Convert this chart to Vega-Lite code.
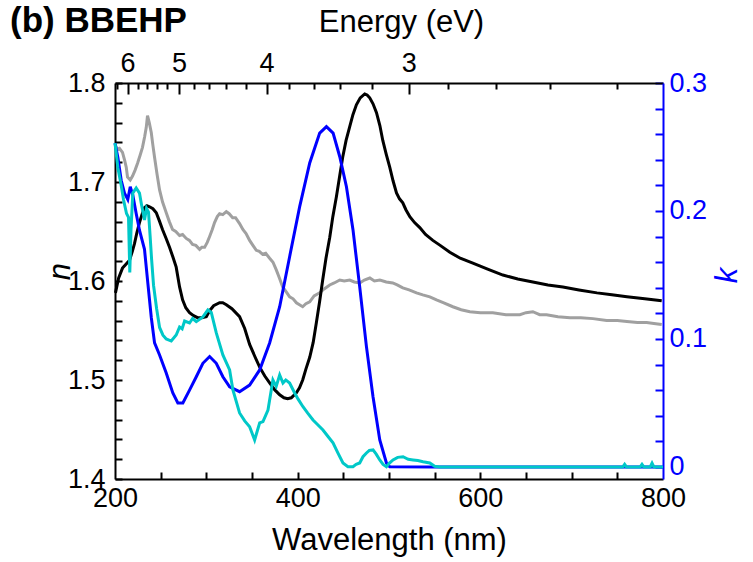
{
  "$schema": "https://vega.github.io/schema/vega-lite/v6.json",
  "width": 548,
  "height": 396,
  "autosize": {"type": "none"},
  "padding": {"left": 115, "top": 83, "right": 90, "bottom": 83},
  "background": "white",
  "config": {"font": "Liberation Sans", "view": {"stroke": null}},
  "title": {"text": "(b) BBEHP", "anchor": "start", "frame": "group", "fontSize": 35, "fontWeight": "bold", "font": "Liberation Sans", "color": "black", "dx": -105, "dy": 37},
  "datasets": {
    "n": [
      {"series": "gray", "wl": 200.5, "v": 1.737}, {"series": "gray", "wl": 202.5, "v": 1.733}, {"series": "gray", "wl": 204.9, "v": 1.734}, {"series": "gray", "wl": 208.2, "v": 1.730}, {"series": "gray", "wl": 210.5, "v": 1.722}, {"series": "gray", "wl": 212.3, "v": 1.715}, {"series": "gray", "wl": 213.7, "v": 1.705}, {"series": "gray", "wl": 216.7, "v": 1.702}, {"series": "gray", "wl": 219.2, "v": 1.706}, {"series": "gray", "wl": 222, "v": 1.712}, {"series": "gray", "wl": 224.7, "v": 1.719}, {"series": "gray", "wl": 227.5, "v": 1.727}, {"series": "gray", "wl": 230.1, "v": 1.735}, {"series": "gray", "wl": 232.5, "v": 1.746}, {"series": "gray", "wl": 234.2, "v": 1.755}, {"series": "gray", "wl": 235.6, "v": 1.767}, {"series": "gray", "wl": 237.5, "v": 1.760}, {"series": "gray", "wl": 239.7, "v": 1.750}, {"series": "gray", "wl": 241.5, "v": 1.737}, {"series": "gray", "wl": 243.3, "v": 1.725}, {"series": "gray", "wl": 246, "v": 1.708}, {"series": "gray", "wl": 248.8, "v": 1.692}, {"series": "gray", "wl": 252, "v": 1.680}, {"series": "gray", "wl": 256.1, "v": 1.669}, {"series": "gray", "wl": 259.5, "v": 1.660}, {"series": "gray", "wl": 263, "v": 1.652}, {"series": "gray", "wl": 266.5, "v": 1.650}, {"series": "gray", "wl": 270.7, "v": 1.646}, {"series": "gray", "wl": 274, "v": 1.647}, {"series": "gray", "wl": 278, "v": 1.643}, {"series": "gray", "wl": 281.5, "v": 1.641}, {"series": "gray", "wl": 284.9, "v": 1.637}, {"series": "gray", "wl": 288.5, "v": 1.636}, {"series": "gray", "wl": 292.6, "v": 1.632}, {"series": "gray", "wl": 295, "v": 1.634}, {"series": "gray", "wl": 298.1, "v": 1.634}, {"series": "gray", "wl": 301, "v": 1.639}, {"series": "gray", "wl": 303.6, "v": 1.645}, {"series": "gray", "wl": 306.5, "v": 1.652}, {"series": "gray", "wl": 309, "v": 1.659}, {"series": "gray", "wl": 312, "v": 1.665}, {"series": "gray", "wl": 314.5, "v": 1.668}, {"series": "gray", "wl": 318, "v": 1.667}, {"series": "gray", "wl": 321.9, "v": 1.670}, {"series": "gray", "wl": 325, "v": 1.668}, {"series": "gray", "wl": 328.8, "v": 1.664}, {"series": "gray", "wl": 332, "v": 1.664}, {"series": "gray", "wl": 336.4, "v": 1.658}, {"series": "gray", "wl": 340, "v": 1.652}, {"series": "gray", "wl": 343.5, "v": 1.648}, {"series": "gray", "wl": 347.4, "v": 1.641}, {"series": "gray", "wl": 351, "v": 1.636}, {"series": "gray", "wl": 354.7, "v": 1.631}, {"series": "gray", "wl": 358, "v": 1.630}, {"series": "gray", "wl": 361.6, "v": 1.627}, {"series": "gray", "wl": 365, "v": 1.628}, {"series": "gray", "wl": 369.3, "v": 1.623}, {"series": "gray", "wl": 373, "v": 1.619}, {"series": "gray", "wl": 376.7, "v": 1.611}, {"series": "gray", "wl": 380, "v": 1.603}, {"series": "gray", "wl": 383.6, "v": 1.594}, {"series": "gray", "wl": 387.5, "v": 1.589}, {"series": "gray", "wl": 391.2, "v": 1.584}, {"series": "gray", "wl": 395, "v": 1.582}, {"series": "gray", "wl": 398.6, "v": 1.578}, {"series": "gray", "wl": 402, "v": 1.576}, {"series": "gray", "wl": 405.5, "v": 1.574}, {"series": "gray", "wl": 409, "v": 1.577}, {"series": "gray", "wl": 413.2, "v": 1.579}, {"series": "gray", "wl": 418, "v": 1.585}, {"series": "gray", "wl": 424.1, "v": 1.588}, {"series": "gray", "wl": 429, "v": 1.592}, {"series": "gray", "wl": 435.1, "v": 1.596}, {"series": "gray", "wl": 440, "v": 1.598}, {"series": "gray", "wl": 446.1, "v": 1.601}, {"series": "gray", "wl": 451, "v": 1.600}, {"series": "gray", "wl": 457, "v": 1.601}, {"series": "gray", "wl": 462, "v": 1.599}, {"series": "gray", "wl": 468, "v": 1.598}, {"series": "gray", "wl": 473, "v": 1.601}, {"series": "gray", "wl": 479, "v": 1.603}, {"series": "gray", "wl": 484, "v": 1.600}, {"series": "gray", "wl": 490, "v": 1.601}, {"series": "gray", "wl": 497, "v": 1.599}, {"series": "gray", "wl": 504.1, "v": 1.598}, {"series": "gray", "wl": 509, "v": 1.596}, {"series": "gray", "wl": 515.1, "v": 1.593}, {"series": "gray", "wl": 522, "v": 1.591}, {"series": "gray", "wl": 530.1, "v": 1.588}, {"series": "gray", "wl": 537, "v": 1.586}, {"series": "gray", "wl": 544.7, "v": 1.584}, {"series": "gray", "wl": 552, "v": 1.581}, {"series": "gray", "wl": 560, "v": 1.578}, {"series": "gray", "wl": 569.9, "v": 1.574}, {"series": "gray", "wl": 579, "v": 1.571}, {"series": "gray", "wl": 588.5, "v": 1.569}, {"series": "gray", "wl": 600, "v": 1.568}, {"series": "gray", "wl": 613.7, "v": 1.568}, {"series": "gray", "wl": 628, "v": 1.566}, {"series": "gray", "wl": 643.3, "v": 1.566}, {"series": "gray", "wl": 650, "v": 1.568}, {"series": "gray", "wl": 657.5, "v": 1.569}, {"series": "gray", "wl": 665, "v": 1.566}, {"series": "gray", "wl": 672.5, "v": 1.566}, {"series": "gray", "wl": 685, "v": 1.564}, {"series": "gray", "wl": 698.1, "v": 1.563}, {"series": "gray", "wl": 710, "v": 1.563}, {"series": "gray", "wl": 723.3, "v": 1.562}, {"series": "gray", "wl": 738.3, "v": 1.560}, {"series": "gray", "wl": 750, "v": 1.560}, {"series": "gray", "wl": 760.5, "v": 1.559}, {"series": "gray", "wl": 772, "v": 1.558}, {"series": "gray", "wl": 782.1, "v": 1.558}, {"series": "gray", "wl": 790, "v": 1.557}, {"series": "gray", "wl": 798.6, "v": 1.556},
      {"series": "black", "wl": 200.5, "v": 1.588}, {"series": "black", "wl": 204, "v": 1.603}, {"series": "black", "wl": 208.2, "v": 1.613}, {"series": "black", "wl": 212, "v": 1.617}, {"series": "black", "wl": 215.9, "v": 1.621}, {"series": "black", "wl": 219, "v": 1.630}, {"series": "black", "wl": 221.4, "v": 1.638}, {"series": "black", "wl": 224, "v": 1.649}, {"series": "black", "wl": 226.8, "v": 1.659}, {"series": "black", "wl": 229.5, "v": 1.667}, {"series": "black", "wl": 232.3, "v": 1.674}, {"series": "black", "wl": 235, "v": 1.676}, {"series": "black", "wl": 237.8, "v": 1.675}, {"series": "black", "wl": 241.5, "v": 1.673}, {"series": "black", "wl": 245.2, "v": 1.669}, {"series": "black", "wl": 248.5, "v": 1.661}, {"series": "black", "wl": 252, "v": 1.652}, {"series": "black", "wl": 256, "v": 1.643}, {"series": "black", "wl": 259.7, "v": 1.634}, {"series": "black", "wl": 263.5, "v": 1.624}, {"series": "black", "wl": 267, "v": 1.614}, {"series": "black", "wl": 270.7, "v": 1.594}, {"series": "black", "wl": 274, "v": 1.581}, {"series": "black", "wl": 277.5, "v": 1.573}, {"series": "black", "wl": 281.6, "v": 1.568}, {"series": "black", "wl": 286, "v": 1.565}, {"series": "black", "wl": 290.4, "v": 1.563}, {"series": "black", "wl": 295, "v": 1.563}, {"series": "black", "wl": 300, "v": 1.564}, {"series": "black", "wl": 303.6, "v": 1.570}, {"series": "black", "wl": 308, "v": 1.575}, {"series": "black", "wl": 314.5, "v": 1.578}, {"series": "black", "wl": 318, "v": 1.578}, {"series": "black", "wl": 321.9, "v": 1.576}, {"series": "black", "wl": 328, "v": 1.572}, {"series": "black", "wl": 336.4, "v": 1.564}, {"series": "black", "wl": 342, "v": 1.552}, {"series": "black", "wl": 347.4, "v": 1.536}, {"series": "black", "wl": 353, "v": 1.524}, {"series": "black", "wl": 358.4, "v": 1.513}, {"series": "black", "wl": 364, "v": 1.504}, {"series": "black", "wl": 369.3, "v": 1.497}, {"series": "black", "wl": 375, "v": 1.490}, {"series": "black", "wl": 380.3, "v": 1.485}, {"series": "black", "wl": 385, "v": 1.482}, {"series": "black", "wl": 389, "v": 1.481}, {"series": "black", "wl": 393, "v": 1.482}, {"series": "black", "wl": 398.6, "v": 1.487}, {"series": "black", "wl": 402, "v": 1.492}, {"series": "black", "wl": 405.5, "v": 1.500}, {"series": "black", "wl": 409, "v": 1.511}, {"series": "black", "wl": 413.2, "v": 1.523}, {"series": "black", "wl": 417, "v": 1.538}, {"series": "black", "wl": 420.5, "v": 1.558}, {"series": "black", "wl": 424, "v": 1.579}, {"series": "black", "wl": 427.4, "v": 1.601}, {"series": "black", "wl": 431, "v": 1.623}, {"series": "black", "wl": 435.1, "v": 1.644}, {"series": "black", "wl": 438.5, "v": 1.665}, {"series": "black", "wl": 442.4, "v": 1.685}, {"series": "black", "wl": 446, "v": 1.706}, {"series": "black", "wl": 449.3, "v": 1.725}, {"series": "black", "wl": 453, "v": 1.742}, {"series": "black", "wl": 457, "v": 1.756}, {"series": "black", "wl": 460.5, "v": 1.768}, {"series": "black", "wl": 464.3, "v": 1.778}, {"series": "black", "wl": 468.5, "v": 1.785}, {"series": "black", "wl": 473.4, "v": 1.789}, {"series": "black", "wl": 476, "v": 1.788}, {"series": "black", "wl": 478.9, "v": 1.785}, {"series": "black", "wl": 482.5, "v": 1.779}, {"series": "black", "wl": 486.3, "v": 1.770}, {"series": "black", "wl": 490, "v": 1.757}, {"series": "black", "wl": 493.2, "v": 1.742}, {"series": "black", "wl": 497, "v": 1.728}, {"series": "black", "wl": 500.8, "v": 1.715}, {"series": "black", "wl": 504.5, "v": 1.701}, {"series": "black", "wl": 508.2, "v": 1.689}, {"series": "black", "wl": 511.5, "v": 1.683}, {"series": "black", "wl": 515.1, "v": 1.679}, {"series": "black", "wl": 518.5, "v": 1.672}, {"series": "black", "wl": 522.8, "v": 1.665}, {"series": "black", "wl": 528, "v": 1.659}, {"series": "black", "wl": 533.7, "v": 1.654}, {"series": "black", "wl": 540, "v": 1.647}, {"series": "black", "wl": 548, "v": 1.641}, {"series": "black", "wl": 556, "v": 1.636}, {"series": "black", "wl": 566.6, "v": 1.629}, {"series": "black", "wl": 578, "v": 1.623}, {"series": "black", "wl": 591.8, "v": 1.618}, {"series": "black", "wl": 608, "v": 1.612}, {"series": "black", "wl": 624.7, "v": 1.606}, {"series": "black", "wl": 641, "v": 1.602}, {"series": "black", "wl": 657.5, "v": 1.599}, {"series": "black", "wl": 674, "v": 1.596}, {"series": "black", "wl": 690.4, "v": 1.594}, {"series": "black", "wl": 708, "v": 1.591}, {"series": "black", "wl": 727.7, "v": 1.588}, {"series": "black", "wl": 744, "v": 1.586}, {"series": "black", "wl": 760.5, "v": 1.584}, {"series": "black", "wl": 780, "v": 1.582}, {"series": "black", "wl": 798.6, "v": 1.580}
    ],
    "k": [
      {"series": "blue", "wl": 200, "v": 0.253}, {"series": "blue", "wl": 203.1, "v": 0.242}, {"series": "blue", "wl": 206.8, "v": 0.224}, {"series": "blue", "wl": 210.4, "v": 0.214}, {"series": "blue", "wl": 214, "v": 0.209}, {"series": "blue", "wl": 216.7, "v": 0.219}, {"series": "blue", "wl": 219.5, "v": 0.2125}, {"series": "blue", "wl": 223.2, "v": 0.198}, {"series": "blue", "wl": 226.8, "v": 0.185}, {"series": "blue", "wl": 232.3, "v": 0.170}, {"series": "blue", "wl": 235.9, "v": 0.144}, {"series": "blue", "wl": 239.7, "v": 0.117}, {"series": "blue", "wl": 243.3, "v": 0.097}, {"series": "blue", "wl": 248.8, "v": 0.0875}, {"series": "blue", "wl": 256.1, "v": 0.0734}, {"series": "blue", "wl": 263.3, "v": 0.0578}, {"series": "blue", "wl": 268.8, "v": 0.050}, {"series": "blue", "wl": 274.3, "v": 0.050}, {"series": "blue", "wl": 281.6, "v": 0.060}, {"series": "blue", "wl": 289, "v": 0.0705}, {"series": "blue", "wl": 296.2, "v": 0.081}, {"series": "blue", "wl": 303.6, "v": 0.0863}, {"series": "blue", "wl": 310.9, "v": 0.081}, {"series": "blue", "wl": 318.1, "v": 0.0705}, {"series": "blue", "wl": 325.5, "v": 0.0627}, {"series": "blue", "wl": 336.4, "v": 0.0588}, {"series": "blue", "wl": 347.4, "v": 0.064}, {"series": "blue", "wl": 358.4, "v": 0.0758}, {"series": "blue", "wl": 369.3, "v": 0.0969}, {"series": "blue", "wl": 380.3, "v": 0.1252}, {"series": "blue", "wl": 391.2, "v": 0.1643}, {"series": "blue", "wl": 402.2, "v": 0.2034}, {"series": "blue", "wl": 413.2, "v": 0.2375}, {"series": "blue", "wl": 424.1, "v": 0.2609}, {"series": "blue", "wl": 431.5, "v": 0.2659}, {"series": "blue", "wl": 438.8, "v": 0.2609}, {"series": "blue", "wl": 446.1, "v": 0.2424}, {"series": "blue", "wl": 453.4, "v": 0.219}, {"series": "blue", "wl": 460.6, "v": 0.1852}, {"series": "blue", "wl": 467.9, "v": 0.1409}, {"series": "blue", "wl": 475.3, "v": 0.094}, {"series": "blue", "wl": 482.5, "v": 0.0549}, {"series": "blue", "wl": 489.9, "v": 0.0211}, {"series": "blue", "wl": 497.2, "v": 0.0031}, {"series": "blue", "wl": 500.8, "v": 0.0002}, {"series": "blue", "wl": 550, "v": 0}, {"series": "blue", "wl": 650, "v": 0}, {"series": "blue", "wl": 800, "v": 0},
      {"series": "cyan", "wl": 200, "v": 0.253}, {"series": "cyan", "wl": 203.1, "v": 0.234}, {"series": "cyan", "wl": 206.8, "v": 0.220}, {"series": "cyan", "wl": 209.3, "v": 0.209}, {"series": "cyan", "wl": 212.6, "v": 0.198}, {"series": "cyan", "wl": 214.8, "v": 0.195}, {"series": "cyan", "wl": 216.2, "v": 0.152}, {"series": "cyan", "wl": 217.5, "v": 0.185}, {"series": "cyan", "wl": 219.5, "v": 0.214}, {"series": "cyan", "wl": 223.2, "v": 0.218}, {"series": "cyan", "wl": 226.8, "v": 0.214}, {"series": "cyan", "wl": 229, "v": 0.205}, {"series": "cyan", "wl": 232.3, "v": 0.193}, {"series": "cyan", "wl": 234.5, "v": 0.202}, {"series": "cyan", "wl": 236.7, "v": 0.199}, {"series": "cyan", "wl": 238.4, "v": 0.181}, {"series": "cyan", "wl": 240, "v": 0.163}, {"series": "cyan", "wl": 242.2, "v": 0.142}, {"series": "cyan", "wl": 245.5, "v": 0.124}, {"series": "cyan", "wl": 248.8, "v": 0.109}, {"series": "cyan", "wl": 252.5, "v": 0.103}, {"series": "cyan", "wl": 256.1, "v": 0.100}, {"series": "cyan", "wl": 261.6, "v": 0.0984}, {"series": "cyan", "wl": 267, "v": 0.1031}, {"series": "cyan", "wl": 270.7, "v": 0.1094}, {"series": "cyan", "wl": 273.5, "v": 0.108}, {"series": "cyan", "wl": 276.2, "v": 0.114}, {"series": "cyan", "wl": 281.6, "v": 0.1125}, {"series": "cyan", "wl": 285, "v": 0.116}, {"series": "cyan", "wl": 289, "v": 0.1135}, {"series": "cyan", "wl": 296.2, "v": 0.1172}, {"series": "cyan", "wl": 301.7, "v": 0.1227}, {"series": "cyan", "wl": 305.4, "v": 0.1207}, {"series": "cyan", "wl": 310.9, "v": 0.1047}, {"series": "cyan", "wl": 318.1, "v": 0.0875}, {"series": "cyan", "wl": 325.5, "v": 0.0758}, {"series": "cyan", "wl": 329.1, "v": 0.0602}, {"series": "cyan", "wl": 336.4, "v": 0.0422}, {"series": "cyan", "wl": 342, "v": 0.036}, {"series": "cyan", "wl": 347.4, "v": 0.0315}, {"series": "cyan", "wl": 352.9, "v": 0.0211}, {"series": "cyan", "wl": 358.4, "v": 0.0344}, {"series": "cyan", "wl": 362, "v": 0.0354}, {"series": "cyan", "wl": 367.5, "v": 0.0445}, {"series": "cyan", "wl": 372.9, "v": 0.068}, {"series": "cyan", "wl": 376.5, "v": 0.063}, {"series": "cyan", "wl": 380.3, "v": 0.0719}, {"series": "cyan", "wl": 383.9, "v": 0.0656}, {"series": "cyan", "wl": 387, "v": 0.068}, {"series": "cyan", "wl": 391.2, "v": 0.0656}, {"series": "cyan", "wl": 396.7, "v": 0.0578}, {"series": "cyan", "wl": 400.5, "v": 0.053}, {"series": "cyan", "wl": 405.8, "v": 0.0471}, {"series": "cyan", "wl": 411, "v": 0.042}, {"series": "cyan", "wl": 416.8, "v": 0.0367}, {"series": "cyan", "wl": 422, "v": 0.033}, {"series": "cyan", "wl": 427.7, "v": 0.0289}, {"series": "cyan", "wl": 433, "v": 0.024}, {"series": "cyan", "wl": 438.7, "v": 0.0188}, {"series": "cyan", "wl": 444, "v": 0.011}, {"series": "cyan", "wl": 449.6, "v": 0.0031}, {"series": "cyan", "wl": 455, "v": 0.0002}, {"series": "cyan", "wl": 460.6, "v": 0.0002}, {"series": "cyan", "wl": 464, "v": 0.002}, {"series": "cyan", "wl": 467.9, "v": 0.0031}, {"series": "cyan", "wl": 471.5, "v": 0.008}, {"series": "cyan", "wl": 475.3, "v": 0.0109}, {"series": "cyan", "wl": 478.5, "v": 0.013}, {"series": "cyan", "wl": 482.5, "v": 0.0133}, {"series": "cyan", "wl": 486, "v": 0.010}, {"series": "cyan", "wl": 489.9, "v": 0.0055}, {"series": "cyan", "wl": 493.5, "v": 0.002}, {"series": "cyan", "wl": 497.2, "v": 0.0002}, {"series": "cyan", "wl": 500.5, "v": 0.003}, {"series": "cyan", "wl": 504.4, "v": 0.0055}, {"series": "cyan", "wl": 509.5, "v": 0.0075}, {"series": "cyan", "wl": 515.4, "v": 0.008}, {"series": "cyan", "wl": 521, "v": 0.006}, {"series": "cyan", "wl": 526.4, "v": 0.0055}, {"series": "cyan", "wl": 531.5, "v": 0.005}, {"series": "cyan", "wl": 537.3, "v": 0.0041}, {"series": "cyan", "wl": 544.7, "v": 0.0031}, {"series": "cyan", "wl": 550, "v": 0.0005}, {"series": "cyan", "wl": 555.6, "v": 0}, {"series": "cyan", "wl": 600, "v": 0}, {"series": "cyan", "wl": 700, "v": 0}, {"series": "cyan", "wl": 756, "v": 0}, {"series": "cyan", "wl": 758, "v": 0.002}, {"series": "cyan", "wl": 760, "v": 0}, {"series": "cyan", "wl": 775, "v": 0}, {"series": "cyan", "wl": 777, "v": 0.002}, {"series": "cyan", "wl": 779, "v": 0}, {"series": "cyan", "wl": 786, "v": 0}, {"series": "cyan", "wl": 788, "v": 0.003}, {"series": "cyan", "wl": 790, "v": 0}, {"series": "cyan", "wl": 800, "v": 0}
    ]
  },
  "layer": [
    {
      "data": {"name": "n"},
      "transform": [{"filter": "datum.series == 'gray'"}],
      "mark": {"type": "line", "strokeWidth": 3, "color": "#a0a0a0"},
      "encoding": {
        "x": {
          "field": "wl", "type": "quantitative",
          "scale": {"domain": [200, 800], "nice": false, "zero": false},
          "axis": {
            "orient": "bottom", "domain": true, "domainColor": "black", "domainWidth": 2, "ticks": false,
            "grid": true, "gridColor": "black", "gridWidth": 2, "gridDash": [0, 389, 7, 1000],
            "gridOpacity": {"condition": {"test": "datum.value == 200 || datum.value == 800", "value": 0}, "value": 1},
            "values": [200, 250, 300, 350, 400, 450, 500, 550, 600, 650, 700, 750, 800],
            "labelExpr": "datum.value % 200 == 0 ? datum.label : ''",
            "labelPadding": 6, "labelFontSize": 27, "labelColor": "black",
            "labelOverlap": false, "labelFlush": false, "labelBound": false,
            "title": "Wavelength (nm)", "titleFontSize": 31, "titleFontWeight": "normal", "titleColor": "black",
            "titleX": 274, "titleY": 61, "titleBaseline": "middle", "titleAlign": "center"
          }
        },
        "y": {
          "field": "v", "type": "quantitative",
          "scale": {"domain": [1.4, 1.8], "nice": false, "zero": false},
          "axis": {
            "orient": "left", "domain": true, "domainColor": "black", "domainWidth": 2, "ticks": false,
            "grid": true, "gridColor": "black", "gridWidth": 2, "gridDash": [7, 2000], "gridOpacity": 1,
            "values": [1.4, 1.42, 1.44, 1.46, 1.48, 1.5, 1.52, 1.54, 1.56, 1.58, 1.6, 1.62, 1.64, 1.66, 1.68, 1.7, 1.72, 1.74, 1.76, 1.78, 1.8],
            "labelExpr": "abs(datum.value * 10 - round(datum.value * 10)) < 0.01 ? format(datum.value, '.1f') : ''",
            "labelPadding": 10, "labelFontSize": 27, "labelColor": "black",
            "labelOverlap": false, "labelFlush": false, "labelBound": false,
            "title": "n", "titleFontSize": 31, "titleFontWeight": "normal", "titleFontStyle": "italic", "titleColor": "black",
            "titleX": -55, "titleY": 188, "titleAngle": 270, "titleBaseline": "middle", "titleAlign": "center"
          }
        }
      }
    },
    {
      "data": {"name": "n"},
      "transform": [{"filter": "datum.series == 'black'"}],
      "mark": {"type": "line", "strokeWidth": 3, "color": "#000000"},
      "encoding": {
        "x": {
          "field": "wl", "type": "quantitative",
          "scale": {"domain": [200, 800], "nice": false, "zero": false},
          "axis": {
            "orient": "top", "domain": true, "domainColor": "black", "domainWidth": 2, "ticks": false,
            "grid": true, "gridColor": "black", "gridWidth": 2, "gridDash": [0, 385, 11, 1000], "gridOpacity": 1,
            "values": [213.7, 270.1, 366, 521.6],
            "labelExpr": "datum.value == 213.7 ? '6' : datum.value == 270.1 ? '5' : datum.value == 366 ? '4' : '3'",
            "labelPadding": 6, "labelFontSize": 27, "labelColor": "black",
            "labelOverlap": false, "labelFlush": false, "labelBound": false,
            "title": "Energy (eV)", "titleFontSize": 31, "titleFontWeight": "normal", "titleColor": "black",
            "titleX": 286, "titleY": -61, "titleBaseline": "middle", "titleAlign": "center"
          }
        },
        "y": {
          "field": "v", "type": "quantitative",
          "scale": {"domain": [1.4, 1.8], "nice": false, "zero": false},
          "axis": null
        }
      }
    },
    {
      "data": {"name": "k"},
      "transform": [{"filter": "datum.series == 'blue'"}],
      "mark": {"type": "line", "strokeWidth": 3, "color": "#0000ff"},
      "encoding": {
        "x": {
          "field": "wl", "type": "quantitative",
          "scale": {"domain": [200, 800], "nice": false, "zero": false},
          "axis": {
            "orient": "top", "domain": false, "labels": false, "title": null, "ticks": false,
            "grid": true, "gridColor": "black", "gridWidth": 2, "gridDash": [0, 390, 6, 1000], "gridOpacity": 1,
            "values": [202.2, 224.7, 235.1, 245.5, 257, 286, 303, 321.1, 343, 390.6, 417.5, 446, 481, 564.3, 617.4, 676, 749.5]
          }
        },
        "y": {
          "field": "v", "type": "quantitative",
          "scale": {"domain": [-0.0094, 0.3], "nice": false, "zero": false},
          "axis": {
            "orient": "right", "domain": true, "domainColor": "#0000ff", "domainWidth": 2, "ticks": false,
            "grid": true, "gridColor": "#0000ff", "gridWidth": 2, "gridDash": [8, 2000], "gridOpacity": 1,
            "values": [0, 0.02, 0.04, 0.06, 0.08, 0.1, 0.12, 0.14, 0.16, 0.18, 0.2, 0.22, 0.24, 0.26, 0.28, 0.3],
            "labelExpr": "abs(datum.value * 10 - round(datum.value * 10)) < 0.01 ? (datum.value == 0 ? '0' : format(datum.value, '.1f')) : ''",
            "labelPadding": 6, "labelFontSize": 27, "labelColor": "#0000ff",
            "labelOverlap": false, "labelFlush": false, "labelBound": false,
            "title": "k", "titleFontSize": 31, "titleFontWeight": "normal", "titleFontStyle": "italic", "titleColor": "#0000ff",
            "titleX": 64, "titleY": 192, "titleAngle": 270, "titleBaseline": "middle", "titleAlign": "center"
          }
        }
      }
    },
    {
      "data": {"name": "k"},
      "transform": [{"filter": "datum.series == 'cyan'"}],
      "mark": {"type": "line", "strokeWidth": 3, "color": "#00c8c8"},
      "encoding": {
        "x": {
          "field": "wl", "type": "quantitative",
          "scale": {"domain": [200, 800], "nice": false, "zero": false},
          "axis": null
        },
        "y": {
          "field": "v", "type": "quantitative",
          "scale": {"domain": [-0.0094, 0.3], "nice": false, "zero": false},
          "axis": null
        }
      }
    }
  ],
  "resolve": {"scale": {"y": "independent"}, "axis": {"x": "independent", "y": "independent"}}
}
